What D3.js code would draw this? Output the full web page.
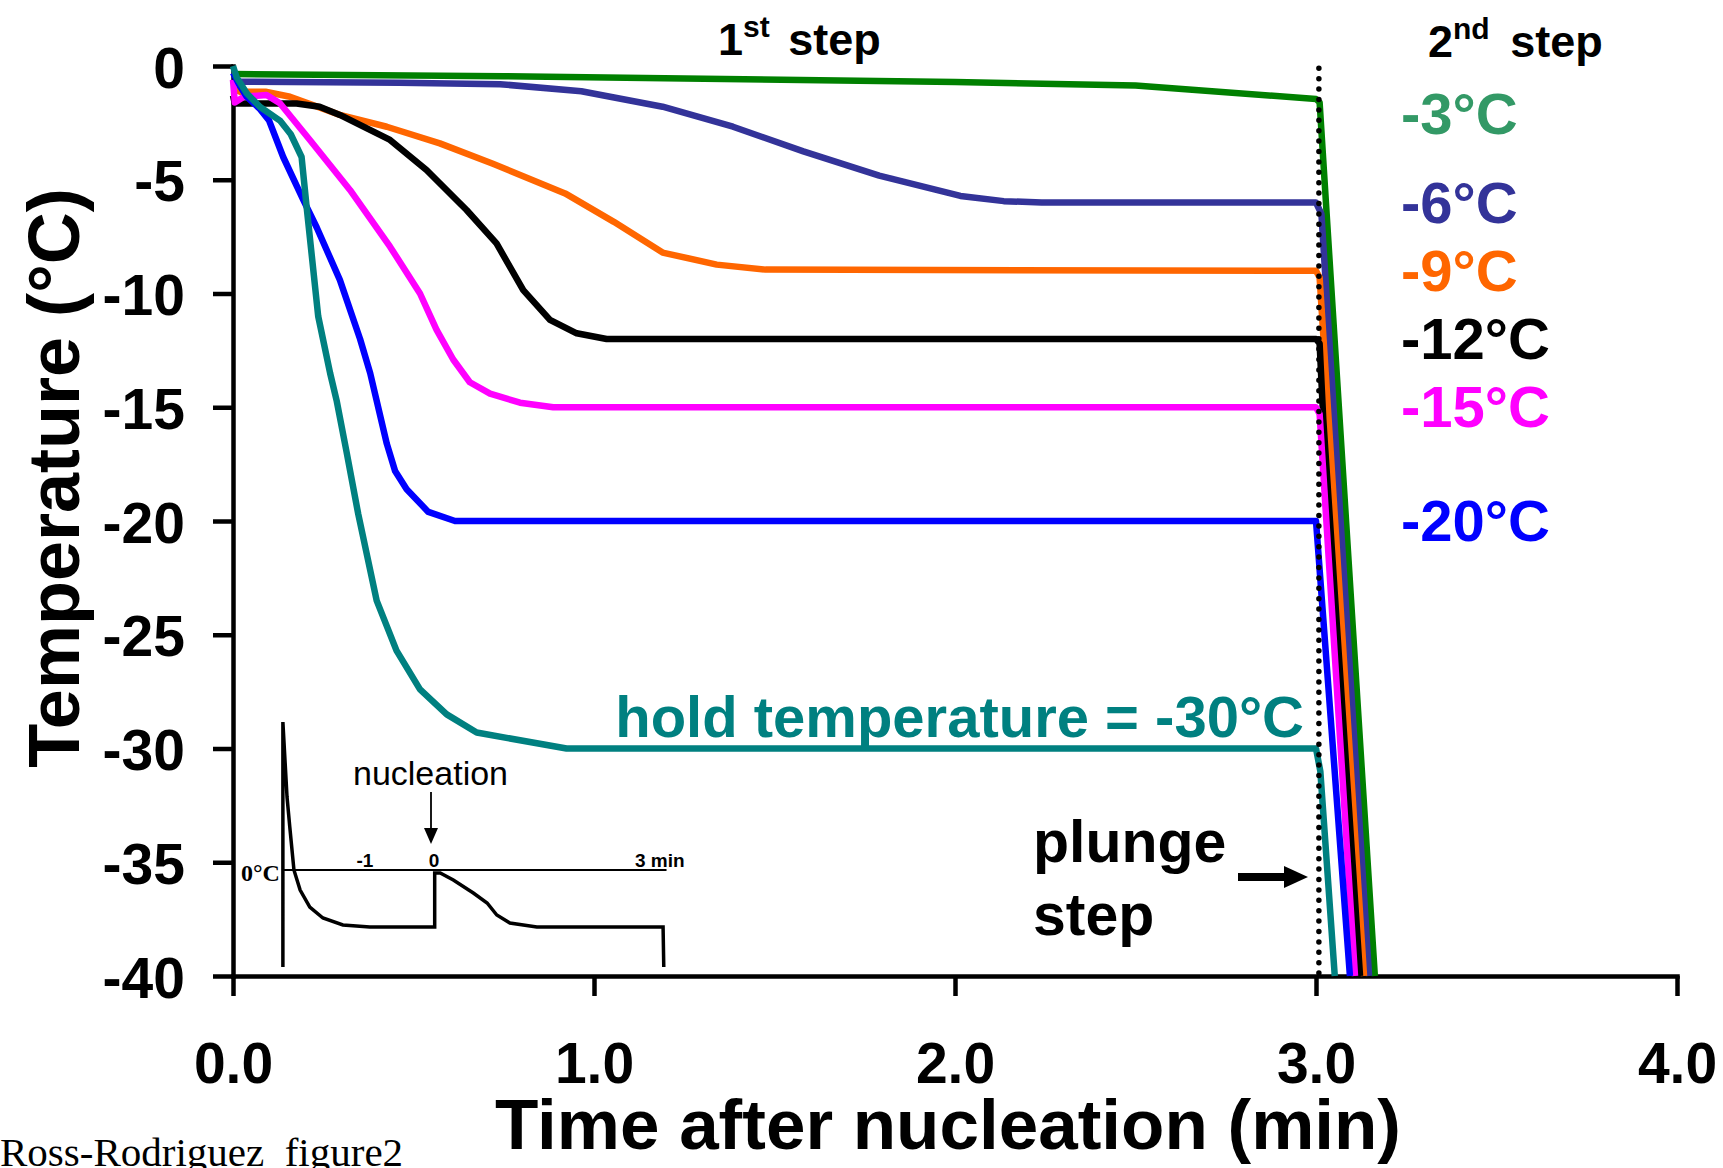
<!DOCTYPE html>
<head>
<meta charset="utf-8">
<script src="https://d3js.org/d3.v7.min.js"></script>
<style>
body { margin: 0; background: white; }
text { font-family: "Liberation Sans", Arial, sans-serif; }
.axis path, .axis line {
  stroke: black;
  stroke-width: 4.5px;
  fill: none;
}
.axis text {
  font-family: "Liberation Sans", Arial, sans-serif;
  font-size: 57px;
  font-weight: bold;
  fill: black;
}
.curve {
  fill: none;
  stroke-width: 6.5px;
  stroke-linejoin: round;
}
.big { font-size: 58px; font-weight: bold; }
</style>
</head>
<body>
<svg></svg>
<script>

// tick values
var xTicks = [0, 1, 2, 3, 4];
var yTicks = [0, -5, -10, -15, -20, -25, -30, -35, -40];

// hold temperatures of the 1st step and their labels
var holdTemps = [-3, -6, -9, -12, -15, -20, -30];
var holdLabels = ["-3°C", "-6°C", "-9°C", "-12°C", "-15°C", "-20°C", "hold temperature = -30°C"];
var labelTemps = [-2.1, -6, -9, -12, -15, -20];

// curves: [time (min), temperature (°C)]
var series_m3 = [[0,-0.35],[0.75,-0.45],[1.25,-0.55],[2.0,-0.7],[2.5,-0.86],[3.0,-1.45],[3.01,-1.6],[3.163,-40]];
var series_m6 = [[0,-0.69],[0.46,-0.74],[0.74,-0.8],[0.965,-1.11],[1.19,-1.79],[1.385,-2.67],[1.58,-3.75],[1.79,-4.82],[2.015,-5.71],[2.135,-5.94],[2.24,-6.0],[3.0,-6.0],[3.015,-6.5],[3.147,-40]];
var series_m9 = [[0,-1.0],[0.02,-1.13],[0.09,-1.13],[0.158,-1.35],[0.296,-2.15],[0.426,-2.67],[0.573,-3.4],[0.72,-4.3],[0.92,-5.6],[1.055,-6.85],[1.19,-8.2],[1.34,-8.73],[1.475,-8.95],[3.0,-9.0],[3.01,-9.3],[3.133,-40]];
var series_m12 = [[0,-1.3],[0.005,-1.65],[0.176,-1.65],[0.24,-1.79],[0.296,-2.15],[0.435,-3.25],[0.536,-4.57],[0.647,-6.33],[0.73,-7.8],[0.804,-9.85],[0.878,-11.16],[0.952,-11.75],[1.035,-12.0],[3.0,-12.0],[3.01,-12.2],[3.02,-15.5],[3.122,-40]];
var series_m15 = [[0,-0.6],[0.005,-1.6],[0.03,-1.35],[0.093,-1.27],[0.13,-1.64],[0.213,-3.25],[0.324,-5.45],[0.435,-7.94],[0.518,-10.0],[0.564,-11.6],[0.61,-12.9],[0.656,-13.9],[0.712,-14.4],[0.795,-14.8],[0.887,-15.0],[3.0,-15.0],[3.01,-15.3],[3.108,-40]];
var series_m20 = [[0,-0.3],[0.02,-0.9],[0.038,-1.35],[0.075,-1.9],[0.1,-2.4],[0.139,-4.0],[0.195,-5.9],[0.232,-7.1],[0.296,-9.4],[0.352,-12.0],[0.38,-13.5],[0.426,-16.6],[0.449,-17.8],[0.481,-18.6],[0.541,-19.6],[0.615,-20.0],[3.0,-20.0],[3.094,-40]];
var series_m30 = [[0,0],[0.01,-0.5],[0.038,-1.2],[0.075,-1.8],[0.13,-2.4],[0.16,-3.0],[0.19,-4.0],[0.204,-6.2],[0.236,-11.0],[0.269,-13.5],[0.287,-14.7],[0.315,-17.0],[0.347,-19.7],[0.398,-23.5],[0.453,-25.7],[0.518,-27.4],[0.592,-28.5],[0.675,-29.3],[0.924,-30.0],[3.0,-30.0],[3.012,-31],[3.052,-40]];

// inset trace (time in min relative to nucleation, temperature in arbitrary units, 0 = 0°C)
var insetTime = [-2.19,-2.19,-2.13,-2.09,-2.03,-1.94,-1.80,-1.61,-1.32,-0.93,-0.20,-0.03,0.01,0.01,0.09,0.28,0.57,0.77,0.91,1.10,1.49,3.32,3.33];
var insetTemp = [-9.7,14.8,7.3,4.3,0,-2.0,-3.7,-4.8,-5.5,-5.7,-5.7,-5.7,-5.7,-0.3,-0.3,-1.0,-2.3,-3.3,-4.5,-5.3,-5.7,-5.7,-9.7];
var insetTicks = [-1, 0];

var allSeries = [series_m3, series_m6, series_m9, series_m12, series_m15, series_m20, series_m30];
var lineColors = ["#008000", "#333399", "#FF6600", "#000000", "#FF00FF", "#0000FF", "#008080"];
var labelColors = ["#339966", "#333399", "#FF6600", "#000000", "#FF00FF", "#0000FF", "#008080"];

var W = 1723, H = 1168;
var svg = d3.select("svg").attr("width", W).attr("height", H);

var x = d3.scaleLinear().domain([0, 4]).range([233, 1677]);
var y = d3.scaleLinear().domain([-40, 0]).range([976, 66]);

// X Axis
svg.append("g")
    .attr("class", "axis")
    .attr("transform", "translate(0," + y(-40) + ")")
    .call(d3.axisBottom(x).tickValues(xTicks).tickSize(20).tickSizeOuter(0).tickPadding(47)
        .tickFormat(d3.format(".1f")));

// Y Axis
var yAxis = svg.append("g")
    .attr("class", "axis")
    .attr("transform", "translate(" + x(0) + ",0)")
    .call(d3.axisLeft(y).tickValues(yTicks).tickSize(20).tickSizeOuter(0).tickPadding(28)
        .tickFormat(function(d) { return String(d); }));
yAxis.selectAll("text").attr("dy", "0.37em");
svg.selectAll(".axis .domain").attr("stroke-linecap", "square");

// Axis titles
svg.append("text")
    .attr("x", (x(0) + x(4)) / 2 - 7)
    .attr("y", 1149)
    .attr("text-anchor", "middle")
    .style("font-size", "71px")
    .style("font-weight", "bold")
    .text("Time after nucleation (min)");

svg.append("text")
    .attr("transform", "translate(79,478) rotate(-90)")
    .attr("text-anchor", "middle")
    .style("font-size", "72px")
    .style("font-weight", "bold")
    .text("Temperature (°C)");

// Curves
var line = d3.line()
    .x(function(d) { return x(d[0]); })
    .y(function(d) { return y(d[1]); });

svg.append("g").selectAll("path")
    .data(allSeries)
    .enter().append("path")
    .attr("class", "curve")
    .attr("d", line)
    .attr("stroke", function(d, i) { return lineColors[i]; });

// Dotted line at the start of the 2nd step
svg.append("line")
    .attr("x1", x(3.008)).attr("x2", x(3.008))
    .attr("y1", y(-0.1)).attr("y2", y(-40))
    .attr("stroke", "black")
    .attr("stroke-width", 5.5)
    .attr("stroke-linecap", "round")
    .attr("stroke-dasharray", "0,10.4");

// Hold temperature labels
svg.append("g").selectAll("text")
    .data(labelTemps)
    .enter().append("text")
    .attr("class", "big")
    .attr("x", 1401)
    .attr("y", function(d) { return y(d) + 20; })
    .attr("fill", function(d, i) { return labelColors[i]; })
    .text(function(d, i) { return holdLabels[i]; });

svg.append("text")
    .attr("class", "big")
    .attr("x", x(3.0) - 12)
    .attr("y", y(holdTemps[6]) - 12)
    .attr("text-anchor", "end")
    .attr("fill", labelColors[6])
    .text(holdLabels[6]);

// Step titles
function stepTitle(xpos, ypos, num, sup, gap) {
    var t = svg.append("text").attr("x", xpos).attr("y", ypos)
        .style("font-weight", "bold").style("font-size", "45px");
    t.append("tspan").text(num);
    t.append("tspan").attr("dy", -18).style("font-size", "30px").text(sup);
    t.append("tspan").attr("dy", 18).attr("dx", gap).text(" step");
}
stepTitle(718, 55, "1", "st", 6);
stepTitle(1428, 57, "2", "nd", 8);

// plunge step annotation
svg.append("text").attr("class", "big").attr("x", 1033).attr("y", 862).style("font-size", "59px").text("plunge");
svg.append("text").attr("class", "big").attr("x", 1033).attr("y", 935).style("font-size", "59px").text("step");
svg.append("line")
    .attr("x1", 1238).attr("x2", 1288)
    .attr("y1", 877).attr("y2", 877)
    .attr("stroke", "black").attr("stroke-width", 8);
svg.append("path")
    .attr("d", "M1284,866 L1308,877 L1284,888 Z")
    .attr("fill", "black");

// Inset
var xi = d3.scaleLinear().domain([0, 3]).range([434, 641]);
var yi = d3.scaleLinear().domain([-10, 0]).range([970, 870]);

svg.append("line")
    .attr("x1", xi(-2.19)).attr("x2", xi(3.37))
    .attr("y1", yi(0)).attr("y2", yi(0))
    .attr("stroke", "black").attr("stroke-width", 2);

svg.append("path")
    .datum(d3.zip(insetTime, insetTemp))
    .attr("d", d3.line().x(function(d) { return xi(d[0]); }).y(function(d) { return yi(d[1]); }))
    .attr("fill", "none")
    .attr("stroke", "black")
    .attr("stroke-width", 3.5);

svg.append("text")
    .attr("x", xi(-2.19) - 3)
    .attr("y", yi(0) + 11)
    .attr("text-anchor", "end")
    .style("font-family", "'Liberation Serif', 'Times New Roman', serif")
    .style("font-weight", "bold")
    .style("font-size", "24px")
    .text("0°C");

svg.append("g").selectAll("text")
    .data(insetTicks)
    .enter().append("text")
    .attr("x", function(d) { return xi(d); })
    .attr("y", yi(0) - 3)
    .attr("text-anchor", "middle")
    .style("font-weight", "bold")
    .style("font-size", "19px")
    .text(function(d) { return String(d); });

svg.append("text")
    .attr("x", xi(3) - 6)
    .attr("y", yi(0) - 3)
    .style("font-weight", "bold")
    .style("font-size", "19px")
    .text("3 min");

svg.append("text")
    .attr("x", 353)
    .attr("y", 785)
    .style("font-size", "34px")
    .text("nucleation");

svg.append("line")
    .attr("x1", xi(0) - 3).attr("x2", xi(0) - 3)
    .attr("y1", 792).attr("y2", 830)
    .attr("stroke", "black").attr("stroke-width", 1.8);
svg.append("path")
    .attr("d", "M" + (xi(0) - 10) + ",828 L" + (xi(0) - 3) + ",844 L" + (xi(0) + 4) + ",828 Z")
    .attr("fill", "black");

// file name
svg.append("text")
    .attr("x", 0)
    .attr("y", 1166)
    .style("font-family", "'Liberation Serif', 'Times New Roman', serif")
    .style("font-size", "41px")
    .text("Ross-Rodriguez_figure2");

</script>
</body>
</html>
